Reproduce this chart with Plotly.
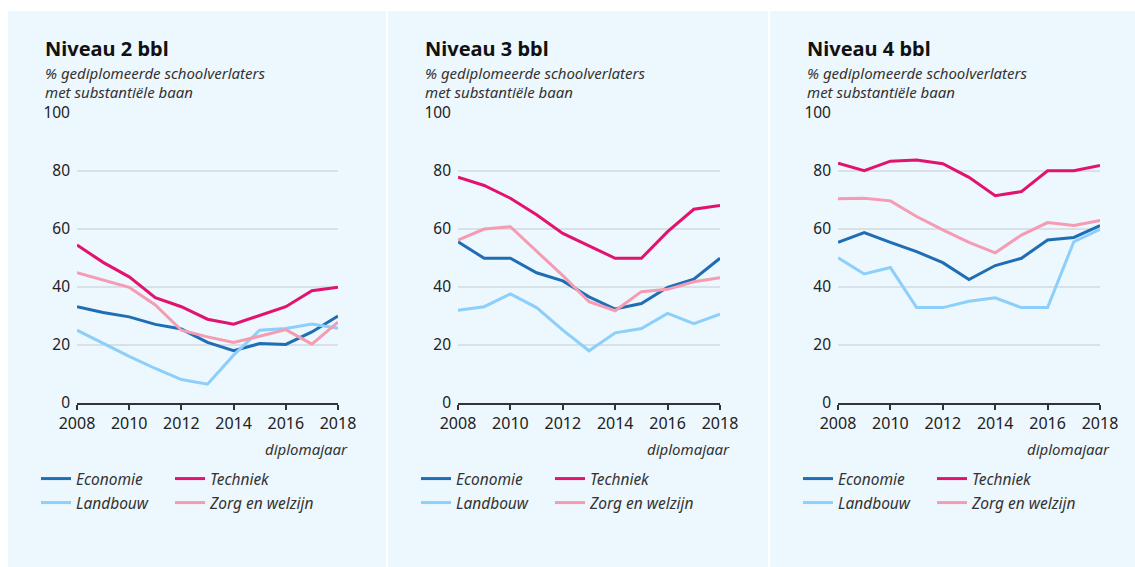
import plotly.graph_objects as go

W, H = 1135, 567

years = list(range(2008, 2019))
series_names = ["Economie", "Techniek", "Landbouw", "Zorg en welzijn"]
panel_titles = ["Niveau 2 bbl", "Niveau 3 bbl", "Niveau 4 bbl"]
subtitle_lines = ["% gediplomeerde schoolverlaters", "met substantiële baan"]
x_title = "diplomajaar"
x_ticks = [2008, 2010, 2012, 2014, 2016, 2018]
y_ticks = [0, 20, 40, 60, 80, 100]

# Niveau 2 bbl
n2_economie = [33.2, 31.2, 29.7, 27.1, 25.5, 20.9, 18.0, 20.5, 20.2, 24.5, 30.0]
n2_techniek = [54.5, 48.5, 43.5, 36.3, 33.2, 28.9, 27.2, 30.3, 33.2, 38.7, 39.9]
n2_landbouw = [25.1, 20.5, 16.1, 11.9, 8.1, 6.5, 16.5, 25.1, 25.7, 27.2, 25.8]
n2_zorg = [44.9, 42.4, 39.9, 33.8, 25.1, 22.8, 20.9, 23.0, 25.3, 20.3, 27.9]

# Niveau 3 bbl
n3_economie = [55.6, 49.9, 49.9, 44.9, 42.1, 36.6, 32.4, 34.3, 39.9, 42.7, 49.9]
n3_techniek = [77.9, 75.0, 70.6, 64.9, 58.5, 54.3, 49.9, 49.9, 59.1, 66.8, 68.1]
n3_landbouw = [32.0, 33.2, 37.6, 32.9, 25.1, 18.0, 24.2, 25.7, 30.9, 27.4, 30.6]
n3_zorg = [56.2, 60.0, 60.8, 52.2, 43.9, 34.9, 31.8, 38.4, 39.2, 41.8, 43.2]

# Niveau 4 bbl
n4_economie = [55.4, 58.8, 55.4, 52.2, 48.4, 42.6, 47.4, 49.9, 56.2, 57.1, 61.2]
n4_techniek = [82.7, 80.1, 83.4, 83.8, 82.5, 77.8, 71.5, 72.9, 80.1, 80.1, 81.9]
n4_landbouw = [50.1, 44.5, 46.7, 32.9, 32.9, 35.1, 36.3, 32.9, 32.9, 55.6, 59.9]
n4_zorg = [70.4, 70.6, 69.7, 64.3, 59.7, 55.4, 51.8, 57.9, 62.2, 61.2, 62.9]

panels = [
    [n2_economie, n2_techniek, n2_landbouw, n2_zorg],
    [n3_economie, n3_techniek, n3_landbouw, n3_zorg],
    [n4_economie, n4_techniek, n4_landbouw, n4_zorg],
]

colors = {
    "Economie": "#1F6DB5",
    "Techniek": "#E2126E",
    "Landbouw": "#8CCFFA",
    "Zorg en welzijn": "#F59BB2",
}

BG = "#EDF7FE"
TXT = "#222222"
FONT = "Noto Sans"

# pixel layout (reference coordinates)
panel_bounds = [(8, 386), (388, 768), (770, 1135)]
plot_x = [(77, 338), (458, 720), (838, 1100)]
plot_y = (113, 403)  # top(100), bottom(0)
# legend slot per series: (column, row)
legend_slot = {"Economie": (0, 0), "Techniek": (1, 0),
               "Landbouw": (0, 1), "Zorg en welzijn": (1, 1)}


def px(x):
    return x / W


def py(y):
    return 1 - y / H


fig = go.Figure()
layout = dict(
    autosize=True,
    margin=dict(l=0, r=0, t=0, b=0, autoexpand=False),
    paper_bgcolor="white",
    plot_bgcolor="rgba(0,0,0,0)",
    showlegend=True,
    font=dict(family=FONT, color=TXT, size=15),
)
shapes = []
annotations = []
leg_count = 0

for i, data in enumerate(panels):
    xa = "xaxis" if i == 0 else f"xaxis{i+1}"
    ya = "yaxis" if i == 0 else f"yaxis{i+1}"
    xr = "x" if i == 0 else f"x{i+1}"
    yr = "y" if i == 0 else f"y{i+1}"
    x0, x1 = plot_x[i]
    layout[xa] = dict(
        domain=[px(x0), px(x1)], anchor=yr, range=[2008, 2018],
        tickvals=x_ticks, ticks="outside", ticklen=5, tickwidth=1.5, tickcolor="#333",
        showline=True, linecolor="#333", linewidth=2, showgrid=False, zeroline=False,
        tickfont=dict(size=16, color=TXT), fixedrange=True,
    )
    layout[ya] = dict(
        domain=[py(plot_y[1]), py(plot_y[0])], anchor=xr, range=[0, 100],
        tickvals=y_ticks, showline=False, zeroline=False,
        showgrid=True, gridcolor="#D9E1E8", gridwidth=1.5,
        ticks="", ticklabelstandoff=6, tickfont=dict(size=15.5, color=TXT), fixedrange=True,
    )
    b0, b1 = panel_bounds[i]
    shapes.append(dict(type="rect", xref="paper", yref="paper",
                       x0=px(b0), x1=px(b1), y0=0, y1=py(11),
                       fillcolor=BG, line=dict(width=0), layer="below"))
    tx = px(b0 + 35)
    annotations.append(dict(text=f"<b>{panel_titles[i]}</b>", xref="paper", yref="paper",
                            x=tx, y=py(48), xanchor="left", yanchor="middle",
                            showarrow=False, font=dict(size=20, color="#111", family=FONT)))
    for k, line in enumerate(subtitle_lines):
        annotations.append(dict(text=line, xref="paper", yref="paper",
                                x=tx, y=py(73 + 19 * k), xanchor="left", yanchor="middle",
                                showarrow=False,
                                font=dict(size=15, color="#333", family=FONT, style="italic")))
    annotations.append(dict(text=x_title, xref="paper", yref="paper",
                            x=px(x1 + 12), y=py(449), xanchor="right", yanchor="middle",
                            showarrow=False,
                            font=dict(size=15, color="#333", family=FONT, style="italic")))

    for idx, name in enumerate(series_names):
        col, row = legend_slot[name]
        lname = "legend" if leg_count == 0 else f"legend{leg_count + 1}"
        leg_count += 1
        layout[lname] = dict(
            orientation="h", x=px(b0 + 28 + 134 * col), y=py(462 + 24 * row),
            xanchor="left", yanchor="top", bgcolor="rgba(0,0,0,0)", itemwidth=30,
            font=dict(size=15.5, color="#333", family=FONT, style="italic"),
            itemclick=False, itemdoubleclick=False,
        )
        fig.add_trace(go.Scatter(
            x=years, y=data[idx], mode="lines", name=name,
            line=dict(color=colors[name], width=3),
            xaxis=xr, yaxis=yr, legend=lname, hoverinfo="skip",
        ))

layout["shapes"] = shapes
layout["annotations"] = annotations
fig.update_layout(**layout)
fig.write_html(
    "out.html",
    config={"displayModeBar": False, "responsive": True},
    default_width="100vw",
    default_height="100vh",
    post_script="document.body.style.margin='0';document.body.style.overflow='hidden';",
)
